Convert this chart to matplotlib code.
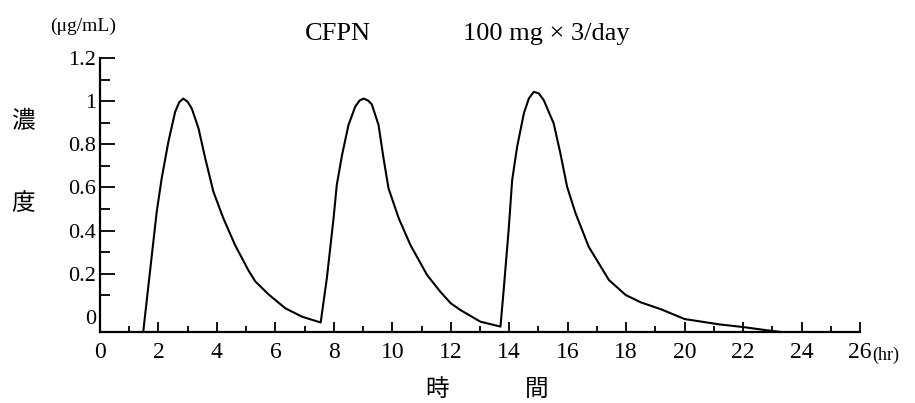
import matplotlib
matplotlib.use("Agg")
import matplotlib.pyplot as plt
from matplotlib.ticker import FixedLocator

# ---- data ----
time_hr = [1.48, 1.71, 1.94, 2.11, 2.34, 2.57, 2.71, 2.85, 3.00, 3.14, 3.37, 3.60, 3.88, 4.22, 4.62, 5.08, 5.31,
           5.76, 6.34, 6.91, 7.55,
           7.76, 7.99, 8.10, 8.28, 8.50, 8.73, 8.88, 9.02, 9.17, 9.30, 9.53, 9.70, 9.87, 10.22, 10.62, 11.19,
           11.64, 12.00, 12.33, 13.01, 13.70,
           13.81, 13.98, 14.10, 14.27, 14.50, 14.67, 14.84, 15.01, 15.18, 15.52, 15.75, 15.98, 16.27, 16.72,
           17.41, 17.98, 18.49, 19.20, 20.00, 21.20, 22.00, 22.70, 23.30]
conc_ugml = [-0.068, 0.210, 0.487, 0.642, 0.812, 0.950, 0.995, 1.012, 0.997, 0.966, 0.874, 0.735, 0.580, 0.457, 0.333, 0.215, 0.165,
             0.105, 0.040, 0.001, -0.026,
             0.179, 0.457, 0.611, 0.750, 0.889, 0.974, 1.003, 1.012, 1.003, 0.985, 0.889, 0.735, 0.596, 0.457, 0.333, 0.194,
             0.117, 0.063, 0.032, -0.022, -0.045,
             0.125, 0.403, 0.634, 0.788, 0.943, 1.012, 1.043, 1.036, 1.005, 0.897, 0.758, 0.603, 0.480, 0.325,
             0.171, 0.102, 0.068, 0.035, -0.010, -0.035, -0.047, -0.060, -0.070]

x_major = [0, 2, 4, 6, 8, 10, 12, 14, 16, 18, 20, 22, 24, 26]
x_labels = ["0", "2", "4", "6", "8", "10", "12", "14", "16", "18", "20", "22", "24", "26"]
y_major = [0, 0.2, 0.4, 0.6, 0.8, 1.0, 1.2]
y_labels = ["0", "0.2", "0.4", "0.6", "0.8", "1", "1.2"]

title_drug = "CFPN"
title_dose = "100 mg × 3/day"
unit_label = "(μg/mL)"

W, H = 915, 403
fig = plt.figure(figsize=(W / 100, H / 100), dpi=100)
fig.patch.set_facecolor("white")
ax = fig.add_axes([100 / W, 71 / H, 760 / W, 274 / H])

serif = ["Liberation Serif", "DejaVu Serif"]
cjk = ["Noto Sans CJK JP", "DejaVu Sans"]

ax.plot(time_hr, conc_ugml, color="black", lw=1.5, solid_joinstyle="round", solid_capstyle="round")

ax.set_xlim(0, 26)
ax.set_ylim(-0.07, 1.2)
for s in ("top", "right"):
    ax.spines[s].set_visible(False)
for s in ("left", "bottom"):
    ax.spines[s].set_linewidth(1.6)
    ax.spines[s].set_color("black")

ax.xaxis.set_major_locator(FixedLocator(x_major))
ax.set_xticklabels(x_labels, fontfamily=serif, fontsize=17)
ax.xaxis.set_minor_locator(FixedLocator(list(range(1, 26, 2))))
ax.yaxis.set_major_locator(FixedLocator(y_major))
ax.set_yticklabels(y_labels, fontfamily=serif, fontsize=16)
ax.yaxis.set_minor_locator(FixedLocator([0.1, 0.3, 0.5, 0.7, 0.9, 1.1]))

ax.tick_params(axis="x", which="major", direction="in", length=7, width=1.3, pad=7)
ax.tick_params(axis="x", which="minor", direction="in", length=4.5, width=1.3)
ax.tick_params(axis="y", which="major", direction="in", length=11, width=1.3, pad=3)
ax.tick_params(axis="y", which="minor", direction="in", length=7, width=1.3)
ax.yaxis.get_major_ticks()[0].tick1line.set_visible(False)

# texts
fig.text(872 / W, 1 - 355 / H, "(hr)", fontfamily=serif, fontsize=13, ha="left", va="center")
fig.text(83 / W, 1 - 26 / H, unit_label, fontfamily=serif, fontsize=14, ha="center", va="center")
fig.text(338 / W, 1 - 34 / H, title_drug, fontfamily=serif, fontsize=19, ha="center", va="center")
fig.text(546 / W, 1 - 34 / H, title_dose, fontfamily=serif, fontsize=19, ha="center", va="center")
fig.text(23 / W, 1 - 122 / H, "濃", fontfamily=cjk, fontsize=17, ha="center", va="center")
fig.text(23 / W, 1 - 204 / H, "度", fontfamily=cjk, fontsize=17, ha="center", va="center")
fig.text(437 / W, 1 - 389 / H, "時", fontfamily=cjk, fontsize=17, ha="center", va="center")
fig.text(537 / W, 1 - 389 / H, "間", fontfamily=cjk, fontsize=17, ha="center", va="center")

fig.savefig("out.png", dpi=100, facecolor="white")
